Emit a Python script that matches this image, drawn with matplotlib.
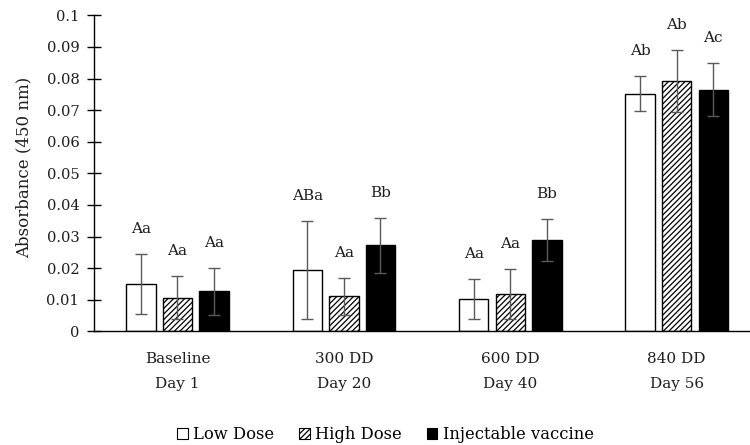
import matplotlib
matplotlib.use("Agg")
import matplotlib.pyplot as plt
import numpy as np
from matplotlib.patches import Patch

plt.rcParams['font.family'] = ['DejaVu Serif', 'Liberation Serif']
plt.rcParams['hatch.linewidth'] = 0.9

categories = ["Baseline\nDay 1", "300 DD\nDay 20", "600 DD\nDay 40", "840 DD\nDay 56"]
series_names = ["Low Dose", "High Dose", "Injectable vaccine"]
low_dose = [0.0150, 0.0195, 0.0102, 0.0752]
high_dose = [0.0106, 0.0111, 0.0118, 0.0792]
injectable = [0.0127, 0.0273, 0.0290, 0.0765]
low_err = [0.0096, 0.0154, 0.0064, 0.0055]
high_err = [0.0068, 0.0058, 0.0079, 0.0098]
inj_err = [0.0074, 0.0087, 0.0066, 0.0083]
low_labels = ["Aa", "ABa", "Aa", "Ab"]
high_labels = ["Aa", "Aa", "Aa", "Ab"]
inj_labels = ["Aa", "Bb", "Bb", "Ac"]
yticks = [0, 0.01, 0.02, 0.03, 0.04, 0.05, 0.06, 0.07, 0.08, 0.09, 0.1]

fig = plt.figure(figsize=(7.5, 4.45), dpi=100)
ax = fig.add_axes([0.1257, 0.2551, 0.8875, 0.7106])

x = np.arange(len(categories))
width = 0.177
offset = 0.22
styles = [dict(color='white', edgecolor='black', hatch=None),
          dict(color='white', edgecolor='black', hatch='//////'),
          dict(color='black', edgecolor='black', hatch=None)]
vals = [low_dose, high_dose, injectable]
errs = [low_err, high_err, inj_err]
labs = [low_labels, high_labels, inj_labels]

txt = '#1e1e1e'
for i in range(3):
    xi = x + (i - 1) * offset
    ax.bar(xi, vals[i], width, color=styles[i]['color'], edgecolor=styles[i]['edgecolor'],
           hatch=styles[i]['hatch'], linewidth=1.0, zorder=2)
    ax.errorbar(xi, vals[i], yerr=errs[i], fmt='none', ecolor='#5a5a5a', elinewidth=1.0,
                capsize=4, capthick=1.0, zorder=3)
    for xx, v, e, t in zip(xi, vals[i], errs[i], labs[i]):
        ax.annotate(t, (xx, v + e), xytext=(0, 18), textcoords='offset points',
                    ha='center', va='center', fontsize=11, color=txt)

ax.set_xlim(-0.5, 3.5)
ax.set_ylim(0, 0.1)
ax.set_yticks(yticks)
ax.set_yticklabels([f"{t:g}" for t in yticks], fontsize=10.6, color=txt)
ax.set_xticks(x)
ax.set_xticklabels(categories, fontsize=11, color=txt, linespacing=1.95)
ax.tick_params(axis='x', length=0, pad=15)
ax.tick_params(axis='y', direction='inout', length=9.5, width=1, pad=6)
ax.set_ylabel("Absorbance (450 nm)", fontsize=12, color=txt)
ax.yaxis.set_label_coords(-0.093, 0.52)
for s in ['top', 'right']:
    ax.spines[s].set_visible(False)
ax.spines['left'].set_linewidth(1)
ax.spines['bottom'].set_linewidth(1)

handles = [Patch(facecolor='white', edgecolor='black', linewidth=0.8),
           Patch(facecolor='white', edgecolor='black', hatch='//////', linewidth=0.8),
           Patch(facecolor='black', edgecolor='black', linewidth=0.8)]
fig.legend(handles, series_names, loc='center', bbox_to_anchor=(0.514, 0.024), ncol=3,
           frameon=False, fontsize=11.8, handlelength=0.65, handleheight=0.65,
           handletextpad=0.35, columnspacing=1.5, borderpad=0)

fig.savefig("out.png", dpi=100)
